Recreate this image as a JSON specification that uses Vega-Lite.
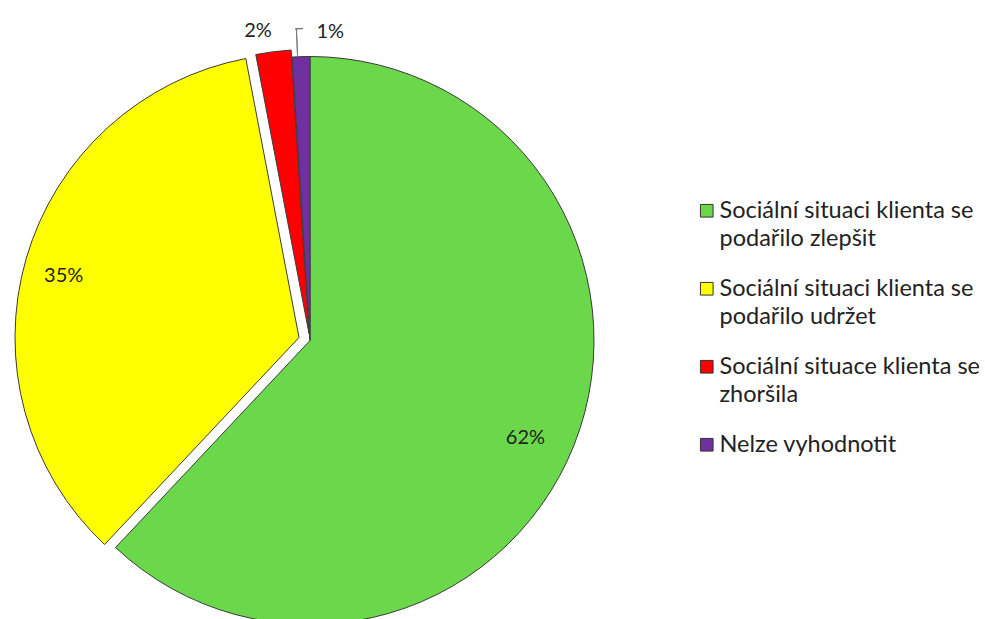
{
  "$schema": "https://vega.github.io/schema/vega-lite/v6.json",
  "width": 620,
  "height": 619,
  "autosize": "none",
  "padding": {"left": 0, "top": 0, "right": 365, "bottom": 0},
  "background": "white",
  "config": {"view": {"stroke": null}, "style": {"guide-label": {"lineHeight": 28}}},
  "data": {
    "values": [
      {"kat": "Sociální situaci klienta se podařilo zlepšit", "podil": 62, "poradi": 1, "popisek": "62%"},
      {"kat": "Sociální situaci klienta  se podařilo udržet", "podil": 35, "poradi": 2, "popisek": "35%"},
      {"kat": "Sociální situace klienta se zhoršila", "podil": 2, "poradi": 3, "popisek": "2%"},
      {"kat": "Nelze vyhodnotit", "podil": 1, "poradi": 4, "popisek": "1%"}
    ]
  },
  "encoding": {
    "theta": {"field": "podil", "type": "quantitative", "stack": true},
    "order": {"field": "poradi", "type": "quantitative", "sort": "ascending"},
    "color": {
      "field": "kat",
      "type": "nominal",
      "scale": {
        "domain": [
          "Sociální situaci klienta se podařilo zlepšit",
          "Sociální situaci klienta  se podařilo udržet",
          "Sociální situace klienta se zhoršila",
          "Nelze vyhodnotit"
        ],
        "range": ["#6AD84A", "#FFFF00", "#FF0000", "#7030A0"]
      },
      "legend": {
        "orient": "none",
        "legendX": 695,
        "legendY": 199,
        "title": null,
        "symbolType": "square",
        "symbolSize": 160,
        "symbolStrokeColor": "#333333",
        "symbolStrokeWidth": 1,
        "labelFont": "Lato",
        "labelFontSize": 23.5,
        "labelColor": "#222222",
        "labelLimit": 400,
        "labelOffset": 1,
        "rowPadding": 25,
        "labelExpr": "datum.value == 'Sociální situaci klienta se podařilo zlepšit' ? ['Sociální situaci klienta se', 'podařilo zlepšit'] : datum.value == 'Sociální situaci klienta  se podařilo udržet' ? ['Sociální situaci klienta  se', 'podařilo udržet'] : datum.value == 'Sociální situace klienta se zhoršila' ? ['Sociální situace klienta se', 'zhoršila'] : datum.value"
      }
    }
  },
  "layer": [
    {
      "mark": {"type": "arc", "radius": 284, "stroke": "#3a3a3a", "strokeWidth": 1, "xOffset": 0, "yOffset": 31},
      "encoding": {"opacity": {"condition": {"test": "datum.poradi == 1", "value": 1}, "value": 0}}
    },
    {
      "mark": {"type": "arc", "radius": 284, "stroke": "#3a3a3a", "strokeWidth": 1, "xOffset": -11, "yOffset": 28},
      "encoding": {"opacity": {"condition": {"test": "datum.poradi == 2", "value": 1}, "value": 0}}
    },
    {
      "mark": {"type": "arc", "radius": 284, "stroke": "#3a3a3a", "strokeWidth": 1, "xOffset": -1, "yOffset": 24},
      "encoding": {"opacity": {"condition": {"test": "datum.poradi == 3", "value": 1}, "value": 0}}
    },
    {
      "mark": {"type": "arc", "radius": 284, "stroke": "#3a3a3a", "strokeWidth": 1, "xOffset": 0, "yOffset": 31},
      "encoding": {"opacity": {"condition": {"test": "datum.poradi == 4", "value": 1}, "value": 0}}
    },
    {
      "mark": {"type": "arc", "radius": 312, "radius2": 285, "padAngle": 0.3, "thetaOffset": -0.0122, "fill": "#777777", "stroke": "#777777", "strokeWidth": 1, "xOffset": 0, "yOffset": 31},
      "encoding": {"color": {"value": "#777777"}, "opacity": {"condition": {"test": "datum.poradi == 4", "value": 1}, "value": 0}}
    },
    {
      "mark": {"type": "arc", "radius": 312, "radius2": 312, "padAngle": 0.0263, "thetaOffset": -0.0035, "fill": "#777777", "stroke": "#777777", "strokeWidth": 1, "xOffset": 0, "yOffset": 31},
      "encoding": {"color": {"value": "#777777"}, "opacity": {"condition": {"test": "datum.poradi == 4", "value": 1}, "value": 0}}
    },
    {
      "mark": {"type": "text", "radius": 236, "font": "Lato", "fontSize": 20, "fill": "#222222", "align": "center", "baseline": "middle", "xOffset": -4, "yOffset": 42},
      "encoding": {"color": {"value": "#222222"}, "text": {"condition": {"test": "datum.poradi == 1", "field": "popisek"}, "value": ""}}
    },
    {
      "mark": {"type": "text", "radius": 245, "font": "Lato", "fontSize": 20, "fill": "#222222", "align": "center", "baseline": "middle", "xOffset": -11, "yOffset": 35},
      "encoding": {"color": {"value": "#222222"}, "text": {"condition": {"test": "datum.poradi == 2", "field": "popisek"}, "value": ""}}
    },
    {
      "mark": {"type": "text", "radius": 303, "font": "Lato", "fontSize": 20, "fill": "#222222", "align": "center", "baseline": "middle", "xOffset": -14, "yOffset": 22},
      "encoding": {"color": {"value": "#222222"}, "text": {"condition": {"test": "datum.poradi == 3", "field": "popisek"}, "value": ""}}
    },
    {
      "mark": {"type": "text", "radius": 309, "font": "Lato", "fontSize": 20, "fill": "#222222", "align": "center", "baseline": "middle", "xOffset": 30, "yOffset": 31},
      "encoding": {"color": {"value": "#222222"}, "text": {"condition": {"test": "datum.poradi == 4", "field": "popisek"}, "value": ""}}
    }
  ]
}
